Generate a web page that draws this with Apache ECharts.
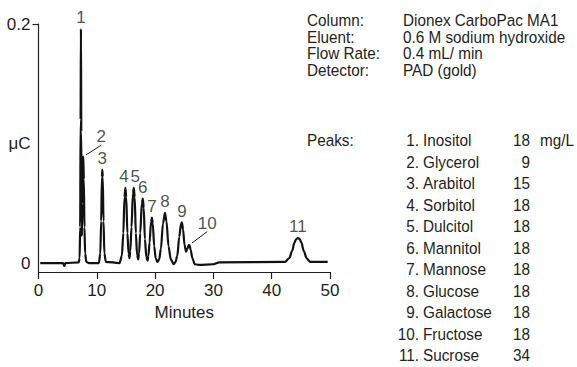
<!DOCTYPE html>
<html><head><meta charset="utf-8">
<script src="https://cdn.jsdelivr.net/npm/echarts@6/dist/echarts.min.js"></script>
<style>html,body{margin:0;padding:0;background:#fff}#c{width:577px;height:367px}</style>
</head><body><div id="c"></div>
<script>
// chromatogram trace (minutes, µC)
const traceTime = [0.3, 4.2, 4.45, 4.6, 6.9, 7.05, 7.15, 7.22, 7.28, 7.34, 7.40, 7.45, 7.52, 7.6, 7.68, 7.78, 7.88, 8.0, 8.2, 8.6,
  10.35, 10.6, 10.75, 10.88, 10.95, 11.02, 11.15, 11.3, 11.55, 13.9,
  14.3, 14.55, 14.75, 14.9, 15.05, 15.25, 15.45, 15.6,
  15.75, 15.95, 16.2, 16.35, 16.5, 16.7, 16.9, 17.1,
  17.25, 17.45, 17.72, 17.9, 18.05, 18.25, 18.5, 18.7,
  18.85, 19.05, 19.3, 19.45, 19.6, 19.85, 20.1, 20.4,
  20.7, 21.0, 21.35, 21.7, 21.95, 22.3, 22.7, 23.2,
  23.5, 23.8, 24.15, 24.45, 24.6, 24.8, 25.05, 25.3,
  25.55, 25.75, 25.9, 26.1, 26.4, 26.8, 27.5, 30.0, 31.0,
  42.3, 43.0, 43.5, 43.9, 44.2, 44.5, 44.8, 45.1, 45.5, 46.0, 46.6, 49.6];
const traceSignal = [0, 0, -0.0025, 0, 0.0005, 0.004, 0.03, 0.12, 0.196, 0.11, 0.03, 0.023, 0.05, 0.084, 0.089, 0.07, 0.03, 0.008, 0.001, 0,
  0, 0.008, 0.035, 0.072, 0.078, 0.072, 0.035, 0.008, 0.001, 0,
  0.006, 0.025, 0.055, 0.063, 0.055, 0.025, 0.008, 0.004,
  0.01, 0.03, 0.058, 0.063, 0.055, 0.025, 0.007, 0.003,
  0.008, 0.025, 0.05, 0.054, 0.046, 0.02, 0.005, 0.002,
  0.006, 0.017, 0.034, 0.038, 0.033, 0.014, 0.004, 0.001,
  0.003, 0.012, 0.033, 0.042, 0.035, 0.014, 0.003, -0.001,
  0.001, 0.006, 0.022, 0.033, 0.034, 0.028, 0.015, 0.0095,
  0.012, 0.015, 0.015, 0.011, 0.004, -0.001, -0.0015, -0.001, 0.0005,
  0.001, 0.004, 0.010, 0.017, 0.020, 0.021, 0.020, 0.017, 0.010, 0.004, 0.001, 0.001];

const peakLabels = ['1', '2', '3', '4', '5', '6', '7', '8', '9', '10', '11'];
const peakTimes = [7.28, 7.68, 10.95, 14.9, 16.35, 17.9, 19.45, 21.7, 24.6, 25.85, 44.5];
const peakHeights = [0.196, 0.089, 0.078, 0.063, 0.063, 0.054, 0.038, 0.042, 0.034, 0.015, 0.021];

const xTickValues = [0, 10, 20, 30, 40, 50];
const yTickValues = [0, 0.1, 0.2];
const yTickLabels = ['0', 'μC', '0.2'];
const xAxisTitle = 'Minutes';

const conditionNames = ['Column:', 'Eluent:', 'Flow Rate:', 'Detector:'];
const conditionValues = ['Dionex CarboPac MA1', '0.6 M sodium hydroxide', '0.4 mL/ min', 'PAD (gold)'];
const peaksTitle = 'Peaks:';
const compoundNames = ['Inositol', 'Glycerol', 'Arabitol', 'Sorbitol', 'Dulcitol', 'Mannitol', 'Mannose', 'Glucose', 'Galactose', 'Fructose', 'Sucrose'];
const concentrations = [18, 9, 15, 18, 18, 18, 18, 18, 18, 18, 34];
const concentrationUnit = 'mg/L';

const FONT = "'Liberation Sans', Arial, sans-serif";
const TXT = '#231f20';
const FS = 17;
const SX = 0.9;

const chart = echarts.init(document.getElementById('c'), null, {renderer: 'svg'});

function txt(text, x, y, align) {
  return {type: 'text', x: x, y: y, scaleX: SX, silent: true,
    style: {text: text, font: FS + 'px ' + FONT, fill: TXT, align: align || 'left', verticalAlign: 'middle'}};
}
const graphics = [];
const headY0 = 20, headH = 16.5;
conditionNames.forEach((n, i) => {
  graphics.push(txt(n, 307, headY0 + headH * i));
  graphics.push(txt(conditionValues[i], 403, headY0 + headH * i));
});
const listY0 = 140, listH = 21.5;
graphics.push(txt(peaksTitle, 307, listY0));
compoundNames.forEach((n, i) => {
  const y = listY0 + listH * i;
  graphics.push(txt((i + 1) + '.', 419, y, 'right'));
  graphics.push(txt(n, 423, y));
  graphics.push(txt(String(concentrations[i]), 530, y, 'right'));
  if (i === 0) graphics.push(txt(concentrationUnit, 540, y));
});

// pixel nudges for labels; entries with a leader line are pulled to the upper right
const labelShift = {1: [18, -9], 3: [-1.5, 0], 4: [1.5, 0], 9: [18, -11]};
const withLeader = {1: true, 9: true};

chart.setOption({
  animation: false,
  grid: {left: 38.5, right: 247, top: 24, bottom: 95, containLabel: false},
  xAxis: {
    type: 'value', min: xTickValues[0], max: xTickValues[xTickValues.length - 1], interval: 10,
    name: xAxisTitle, nameLocation: 'middle', nameGap: 25,
    nameTextStyle: {fontFamily: FONT, fontSize: FS, color: TXT},
    axisLine: {onZero: false, lineStyle: {color: '#231f20', width: 1.2}},
    axisTick: {show: true, inside: false, length: 7, lineStyle: {color: '#231f20', width: 1.2}},
    axisLabel: {margin: 10, fontFamily: FONT, fontSize: FS, color: TXT},
    splitLine: {show: false}
  },
  yAxis: {
    type: 'value', min: -0.0075, max: 0.2,
    axisLine: {show: true, lineStyle: {color: '#231f20', width: 1.2}},
    axisTick: {show: true, inside: false, length: 6, customValues: [0.2], lineStyle: {color: '#231f20', width: 1.2}},
    axisLabel: {
      margin: 8, fontFamily: FONT, fontSize: FS, color: TXT, customValues: yTickValues,
      formatter: v => {
        let best = 0;
        yTickValues.forEach((t, i) => { if (Math.abs(t - v) < Math.abs(yTickValues[best] - v)) best = i; });
        return yTickLabels[best];
      }
    },
    splitLine: {show: false}
  },
  series: [
    {
      type: 'line', data: traceTime.map((t, i) => [t, traceSignal[i]]),
      showSymbol: false, smooth: 0.3, smoothMonotone: 'x',
      lineStyle: {color: '#111', width: 2.2}, silent: true
    },
    {
      type: 'scatter', symbol: 'circle', symbolSize: 7, itemStyle: {color: 'rgba(0,0,0,0)'}, silent: true,
      data: peakTimes.map((t, i) => ({
        value: [t, peakHeights[i]],
        labelLine: {show: !!withLeader[i]}
      })),
      label: {show: true, position: 'top', distance: -1, formatter: p => peakLabels[p.dataIndex],
        fontFamily: FONT, fontSize: FS, color: TXT},
      labelLine: {show: false, lineStyle: {color: '#231f20', width: 1}},
      labelLayout: p => labelShift[p.dataIndex] ? {dx: labelShift[p.dataIndex][0], dy: labelShift[p.dataIndex][1]} : {}
    }
  ],
  graphic: graphics
});
</script></body></html>
